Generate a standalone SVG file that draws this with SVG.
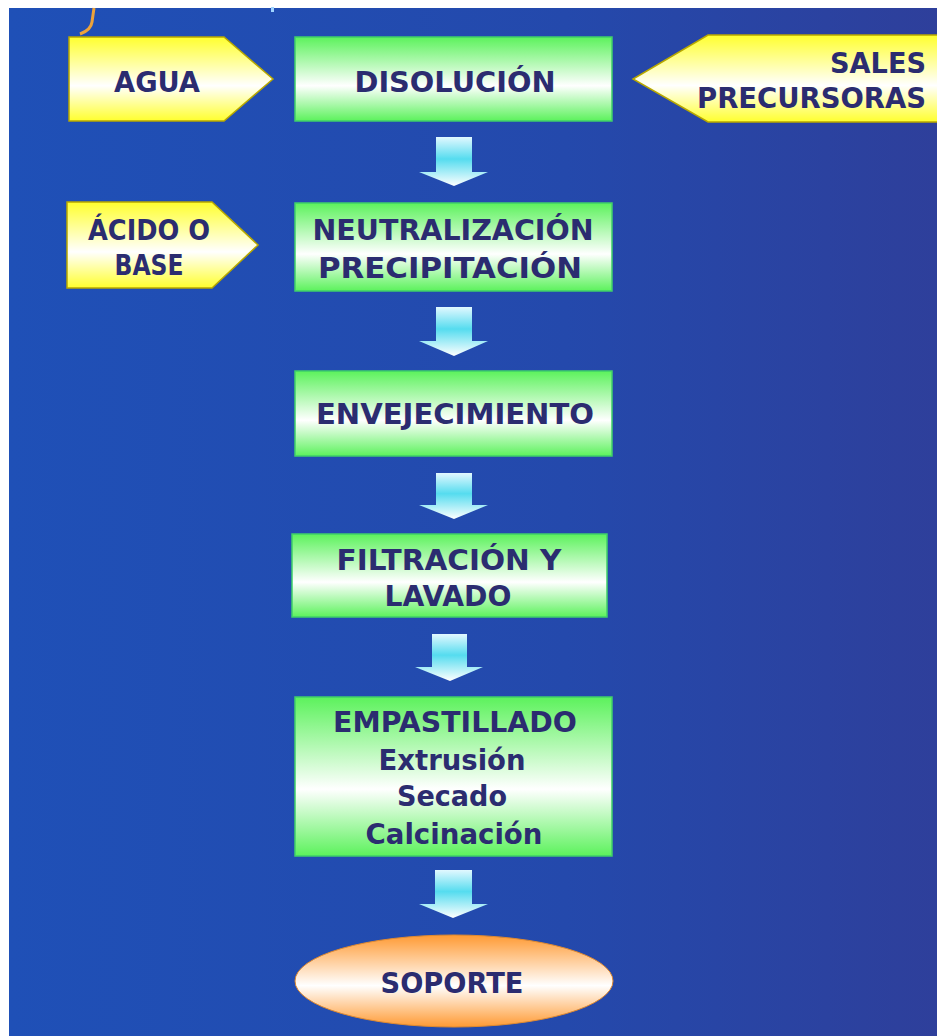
<svg xmlns="http://www.w3.org/2000/svg" width="937" height="1036" viewBox="0 0 937 1036">
<defs>
<linearGradient id="bg" x1="0" y1="0" x2="1" y2="0">
<stop offset="0" stop-color="#1f50b7"/>
<stop offset="0.6" stop-color="#2449ac"/>
<stop offset="1" stop-color="#2e3f9b"/>
</linearGradient>
<linearGradient id="green" x1="0" y1="0" x2="0" y2="1">
<stop offset="0" stop-color="#5cf25c"/>
<stop offset="0.58" stop-color="#ffffff"/>
<stop offset="1" stop-color="#5cf25c"/>
</linearGradient>
<linearGradient id="yellow" x1="0" y1="0" x2="0" y2="1">
<stop offset="0" stop-color="#ffff2e"/>
<stop offset="0.58" stop-color="#ffffff"/>
<stop offset="1" stop-color="#ffff2e"/>
</linearGradient>
<linearGradient id="orange" x1="0" y1="0" x2="0" y2="1">
<stop offset="0" stop-color="#ff9a33"/>
<stop offset="0.55" stop-color="#ffffff"/>
<stop offset="1" stop-color="#ff9a33"/>
</linearGradient>
<linearGradient id="cyan" x1="0" y1="0" x2="0" y2="1">
<stop offset="0" stop-color="#e2f8ff"/>
<stop offset="0.45" stop-color="#55dcef"/>
<stop offset="1" stop-color="#ffffff"/>
</linearGradient>
<style>
.box{fill:url(#green);stroke:#3fcf6a;stroke-width:1.5}
.tag{fill:url(#yellow);stroke:#b8a800;stroke-width:1.5}
.arr{fill:url(#cyan)}
.t{font-family:"DejaVu Sans","Liberation Sans",sans-serif;font-weight:bold;font-size:28px;fill:#2b2c70;text-anchor:middle}
.r{text-anchor:end}
</style>
</defs>
<rect x="0" y="0" width="937" height="1036" fill="#ffffff"/>
<rect x="9" y="8" width="928" height="1028" fill="url(#bg)"/>
<path d="M80 34 Q91 30 92 22 L94 8" fill="none" stroke="#eda33a" stroke-width="3"/>
<rect x="271" y="7" width="3" height="5" fill="#9fd4ff"/>

<g id="connectors">
<polygon class="arr" points="436,137 472,137 472,172 488,172 454,186 419,172 436,172"/>
<polygon class="arr" points="436,307 472,307 472,341 488,341 454,356 419,341 436,341"/>
<polygon class="arr" points="436,473 472,473 472,505 488,505 454,519 419,505 436,505"/>
<polygon class="arr" points="432,634 467,634 467,667 483,667 450,681 415,667 432,667"/>
<polygon class="arr" points="435,870 472,870 472,904 488,904 453,918 419,904 435,904"/>
</g>

<g id="agua">
<polygon class="tag" points="69,37 224,37 273,79 224,121 69,121"/>
<text class="t" x="157" y="92" textLength="86" lengthAdjust="spacingAndGlyphs">AGUA</text>
</g>

<g id="sales">
<polygon class="tag" points="940,35 708,35 633,79 708,122 940,122"/>
<text class="t r" x="926" y="73" textLength="96" lengthAdjust="spacingAndGlyphs">SALES</text>
<text class="t r" x="926" y="108" textLength="229" lengthAdjust="spacingAndGlyphs">PRECURSORAS</text>
</g>

<g id="acido">
<polygon class="tag" points="67,202 212,202 258,245 212,288 67,288"/>
<text class="t" x="149" y="240" textLength="122" lengthAdjust="spacingAndGlyphs">ÁCIDO O</text>
<text class="t" x="149" y="275" textLength="69" lengthAdjust="spacingAndGlyphs">BASE</text>
</g>

<g id="disolucion">
<rect class="box" x="295" y="37" width="317" height="84"/>
<text class="t" x="455" y="92" textLength="201" lengthAdjust="spacingAndGlyphs">DISOLUCIÓN</text>
</g>

<g id="neutralizacion">
<rect class="box" x="295" y="203" width="317" height="88"/>
<text class="t" x="453" y="240" textLength="281" lengthAdjust="spacingAndGlyphs">NEUTRALIZACIÓN</text>
<text class="t" x="450" y="278" textLength="264" lengthAdjust="spacingAndGlyphs">PRECIPITACIÓN</text>
</g>

<g id="envejecimiento">
<rect class="box" x="295" y="371" width="317" height="85"/>
<text class="t" x="455" y="424" textLength="278" lengthAdjust="spacingAndGlyphs">ENVEJECIMIENTO</text>
</g>

<g id="filtracion">
<rect class="box" x="292" y="534" width="315" height="83"/>
<text class="t" x="449" y="570" textLength="225" lengthAdjust="spacingAndGlyphs">FILTRACIÓN Y</text>
<text class="t" x="448" y="606" textLength="127" lengthAdjust="spacingAndGlyphs">LAVADO</text>
</g>

<g id="empastillado">
<rect class="box" x="295" y="697" width="317" height="159"/>
<text class="t" x="455" y="732" textLength="244" lengthAdjust="spacingAndGlyphs">EMPASTILLADO</text>
<text class="t" x="452" y="770" textLength="147" lengthAdjust="spacingAndGlyphs">Extrusión</text>
<text class="t" x="452" y="806" textLength="110" lengthAdjust="spacingAndGlyphs">Secado</text>
<text class="t" x="454" y="844" textLength="177" lengthAdjust="spacingAndGlyphs">Calcinación</text>
</g>

<g id="soporte">
<ellipse cx="454" cy="981" rx="159" ry="46" fill="url(#orange)" stroke="#e08a30" stroke-width="1"/>
<text class="t" x="452" y="993" textLength="143" lengthAdjust="spacingAndGlyphs">SOPORTE</text>
</g>
</svg>
